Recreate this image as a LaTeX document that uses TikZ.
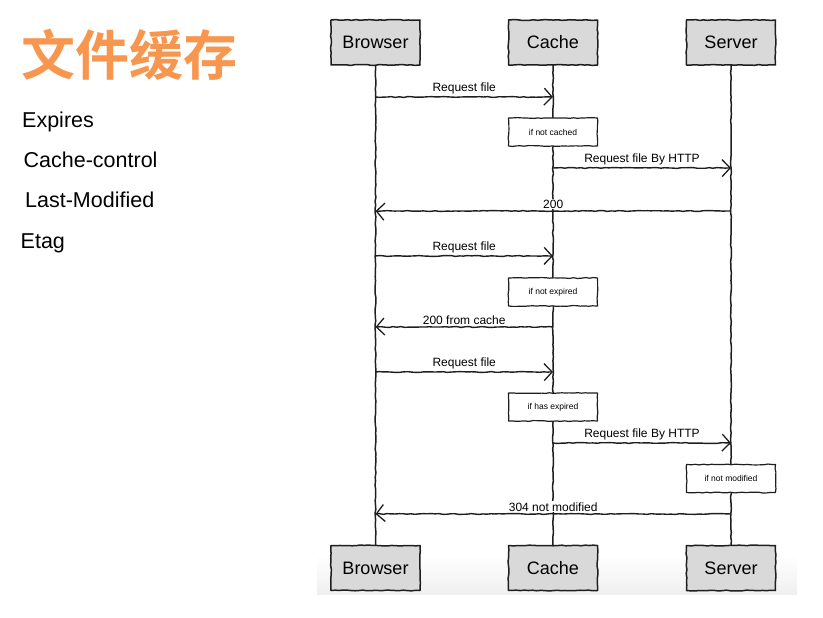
\documentclass[tikz,border=0pt]{standalone}
\usepackage{fontspec}
\setmainfont{Liberation Sans}
\newfontfamily\cjkfont{Noto Sans CJK SC Bold}
\usetikzlibrary{arrows.meta,decorations.pathmorphing,positioning}
\definecolor{titleorange}{HTML}{F7964F}
\definecolor{boxgray}{HTML}{D9D9D9}
\definecolor{ink}{HTML}{1E1E1E}
\pgfmathsetseed{7}
\tikzset{
  sketch/.style={decorate,decoration={random steps,segment length=4pt,amplitude=0.45pt},line join=round},
  actor/.style={draw=ink,line width=1.5pt,fill=boxgray,minimum width=89pt,minimum height=45pt,inner sep=0pt,font=\fontsize{18}{20}\selectfont,sketch},
  notebox/.style={draw=ink,line width=1.2pt,fill=white,minimum width=89pt,minimum height=28pt,inner sep=0pt,font=\fontsize{8.5}{9}\selectfont,sketch},
  life/.style={draw=ink,line width=1.5pt,sketch},
  msg/.style={draw=ink,line width=1.4pt,sketch,-{Straight Barb[length=8pt,width=17pt,line width=1.3pt]}},
  msglabel/.style={above,yshift=1pt,inner sep=1pt,fill=white,font=\fontsize{12}{13}\selectfont},
  side/.style={anchor=base west,inner sep=0pt,font=\fontsize{21.5}{24}\selectfont}
}
\begin{document}
\begin{tikzpicture}[x=1pt,y=-1pt]
\useasboundingbox (0,0) rectangle (823,618);
% faint screenshot background at bottom
\shade[top color=white,bottom color=black!6] (317,555) rectangle (797,594);
% title and list
\node[anchor=west,inner sep=0pt,text=titleorange,font=\cjkfont\fontsize{54}{56}\selectfont] (title) at (21.5,55) {文件缓存};
\node[side] (l1) at (22,127.5) {Expires};
\node[side] (l2) at (23.5,167.5) {Cache-control};
\node[side] (l3) at (25,207.5) {Last-Modified};
\node[side] (l4) at (20.5,248.5) {Etag};
% lifelines (drawn first)
\coordinate (bt) at (375.5,65); \coordinate (bb) at (375.5,545);
\coordinate (ct) at (553,65);   \coordinate (cb) at (553,545);
\coordinate (st) at (731,65);   \coordinate (sb) at (731,545);
\draw[life] (bt) -- (bb);
\draw[life] (ct) -- (cb);
\draw[life] (st) -- (sb);
% participants
\node[actor] (B1) at (375.5,42.5) {Browser};
\node[actor] (C1) at (553,42.5) {Cache};
\node[actor] (S1) at (731,42.5) {Server};
\node[actor] (B2) at (375.5,568) {Browser};
\node[actor] (C2) at (553,568) {Cache};
\node[actor] (S2) at (731,568) {Server};
% notes
\node[notebox] (n1) at (553,132) {if not cached};
\node[notebox] (n2) at (553,292) {if not expired};
\node[notebox] (n3) at (553,407) {if has expired};
\node[notebox] (n4) at (731,478.5) {if not modified};
% message end points on the lifelines
\coordinate (b1) at (375.5,97);  \coordinate (c1) at (553,97);
\coordinate (c2) at (553,168);   \coordinate (s2) at (731,168);
\coordinate (s3) at (731,211);   \coordinate (b3) at (375.5,211);
\coordinate (b4) at (375.5,256); \coordinate (c4) at (553,256);
\coordinate (c5) at (553,327);   \coordinate (b5) at (375.5,327);
\coordinate (b6) at (375.5,372); \coordinate (c6) at (553,372);
\coordinate (c7) at (553,443);   \coordinate (s7) at (731,443);
\coordinate (s8) at (731,514);   \coordinate (b8) at (375.5,514);
% messages
\draw[msg] (b1) -- node[msglabel] {Request file} (c1);
\draw[msg] (c2) -- node[msglabel] {Request file By HTTP} (s2);
\draw[msg] (s3) -- node[msglabel] {200} (b3);
\draw[msg] (b4) -- node[msglabel] {Request file} (c4);
\draw[msg] (c5) -- node[msglabel] {200 from cache} (b5);
\draw[msg] (b6) -- node[msglabel] {Request file} (c6);
\draw[msg] (c7) -- node[msglabel] {Request file By HTTP} (s7);
\draw[msg] (s8) -- node[msglabel] {304 not modified} (b8);
\end{tikzpicture}
\end{document}
